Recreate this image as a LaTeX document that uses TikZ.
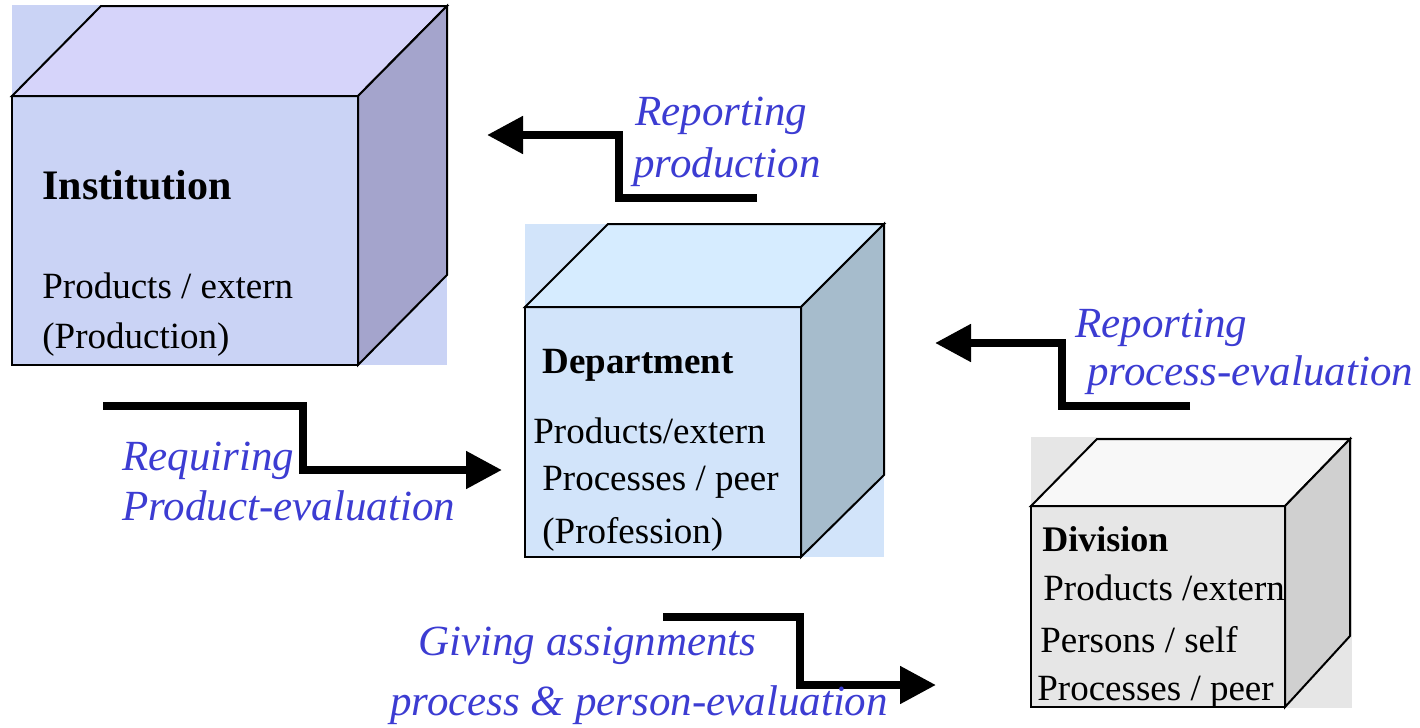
\documentclass[tikz,border=0pt]{standalone}
\usepackage{fontspec}
\setmainfont{Liberation Serif}
\usepackage{xcolor}
\usetikzlibrary{arrows.meta}
\definecolor{flowblue}{RGB}{60,60,210}
\definecolor{instfront}{RGB}{202,211,245}
\definecolor{insttop}{RGB}{214,212,250}
\definecolor{instside}{RGB}{164,164,204}
\definecolor{depfront}{RGB}{210,228,250}
\definecolor{deptop}{RGB}{214,236,255}
\definecolor{depside}{RGB}{166,188,204}
\definecolor{divfront}{RGB}{230,230,230}
\definecolor{divtop}{RGB}{248,248,248}
\definecolor{divside}{RGB}{208,208,208}

\begin{document}
\begin{tikzpicture}[x=0.5pt,y=-0.5pt,
   face/.style={draw=black,line width=1pt,line join=miter},
   flow/.style={line width=4pt,line join=miter,-{Triangle[length=18pt,width=18pt]}},
   flowtext/.style={anchor=base west,inner sep=0pt,text=flowblue,font=\fontsize{21.5}{25}\selectfont\itshape},
   boxtitle/.style={anchor=base west,inner sep=0pt,font=\fontsize{18.5}{25}\selectfont\bfseries},
   boxline/.style={anchor=base west,inner sep=0pt,font=\fontsize{18.5}{25}\selectfont}]
   \useasboundingbox (0,0) rectangle (1420,728);

   % Institution
   \fill[instfront] (12,5) rectangle (447,365);
   \draw[face,fill=insttop] (12,96) -- (101,6) -- (447,6) -- (358,96) -- cycle;
   \draw[face,fill=instside] (358,96) -- (447,6) -- (447,275) -- (358,365) -- cycle;
   \draw[face] (12,96) rectangle (358,365);
   \node[boxtitle,font=\fontsize{21}{25}\selectfont\bfseries] (inst) at (42,199) {Institution};
   \node[boxline] (instprod) at (42,298) {Products / extern};
   \node[boxline] (instpro) at (42,348) {(Production)};

   % Department
   \fill[depfront] (525,224) rectangle (884,557);
   \draw[face,fill=deptop] (525,307) -- (608,224) -- (884,224) -- (801,307) -- cycle;
   \draw[face,fill=depside] (801,307) -- (884,224) -- (884,475) -- (801,557) -- cycle;
   \draw[face] (525,307) rectangle (801,557);
   \node[boxtitle] (dep) at (542,373) {Department};
   \node[boxline] (depprod) at (533,443) {Products/extern};
   \node[boxline] (depproc) at (542,490) {Processes / peer};
   \node[boxline] (depprof) at (542,543) {(Profession)};

   % Division
   \fill[divfront] (1031,437) rectangle (1352,708);
   \draw[face,fill=divtop] (1031,506) -- (1097,439) -- (1350,439) -- (1285,506) -- cycle;
   \draw[face,fill=divside] (1285,506) -- (1350,439) -- (1350,636) -- (1285,707) -- cycle;
   \draw[face] (1031,506) rectangle (1285,707);
   \node[boxtitle,font=\fontsize{18}{25}\selectfont\bfseries] (div) at (1042,551) {Division};
   \node[boxline] (divprod) at (1043,600) {Products /extern};
   \node[boxline] (divpers) at (1040,652) {Persons / self};
   \node[boxline] (divproc) at (1037,700) {Processes / peer};

   % flows
   \coordinate (rpstart) at (757,198);
   \coordinate (rpbend) at (619,135);
   \coordinate (rpend) at (487,135);
   \draw[flow] (rpstart) -| (rpbend) -- (rpend);
   \node[flowtext] (rp1) at (635,125) {Reporting};
   \node[flowtext] (rp2) at (633,177) {production};

   \coordinate (rqstart) at (103,406);
   \coordinate (rqbend) at (303,470);
   \coordinate (rqend) at (502,470);
   \draw[flow] (rqstart) -| (rqbend) -- (rqend);
   \node[flowtext] (rq1) at (122,470) {Requiring};
   \node[flowtext] (rq2) at (122,520) {Product-evaluation};

   \coordinate (pestart) at (1190,406);
   \coordinate (pebend) at (1062,343);
   \coordinate (peend) at (935,343);
   \draw[flow] (pestart) -| (pebend) -- (peend);
   \node[flowtext] (pe1) at (1075,337) {Reporting};
   \node[flowtext] (pe2) at (1087,385) {process-evaluation};

   \coordinate (gastart) at (663,617);
   \coordinate (gabend) at (800,685);
   \coordinate (gaend) at (936,685);
   \draw[flow] (gastart) -| (gabend) -- (gaend);
   \node[flowtext] (ga1) at (418,655) {Giving assignments};
   \node[flowtext] (ga2) at (390,715) {process \& person-evaluation};
\end{tikzpicture}
\end{document}
